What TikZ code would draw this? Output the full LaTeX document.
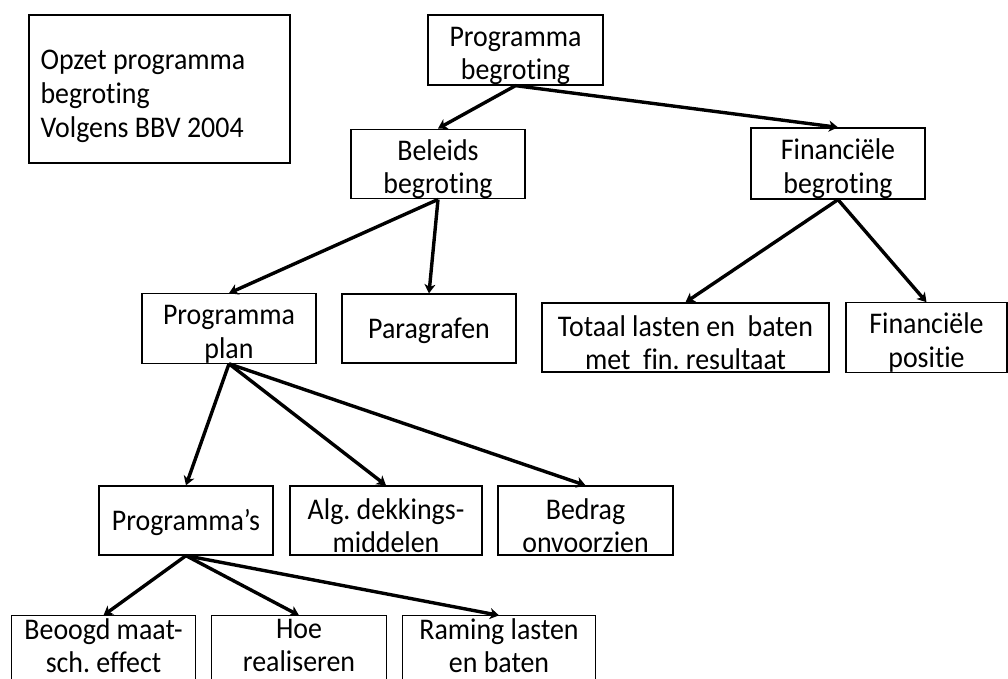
\documentclass[tikz,border=0pt]{standalone}
\usepackage{fontspec}
\setmainfont{Carlito}[Ligatures=NoCommon, FakeStretch=0.93]
\usetikzlibrary{arrows.meta}
\frenchspacing
% invisible strut that makes the first line taller, lowering the text a little
\newcommand\lift[1][31pt]{\rule{0pt}{#1}}
\tikzset{
  box/.style={draw, line width=1.3pt, inner sep=0pt, align=center,
    font=\fontsize{30}{33.5}\selectfont},
  openbox/.style={box, draw=none},
  link/.style={line width=3.4pt, -{Stealth[length=9pt,width=11pt,inset=2.5pt]}}
}
\begin{document}
\begin{tikzpicture}[x=1pt,y=-1pt]
\useasboundingbox (0,0) rectangle (1008,679);
\clip (0,0) rectangle (1008,679);

% legend
\node[box, minimum width=261, minimum height=148] (title) at (159.5,89) {};
\node[font=\fontsize{30}{34}\selectfont, align=left, inner sep=0pt, anchor=west]
  (titletext) at ([xshift=12pt,yshift=-7pt]title.west) {Opzet programma\\begroting\\Volgens BBV 2004};

% level 0
\node[box, minimum width=175, minimum height=70] (pb) at (515.5,50) {\lift Programma\\begroting};

% level 1
\node[box, minimum width=174, minimum height=68] (bel) at (438,164) {\lift Beleids\\begroting};
\node[box, minimum width=174, minimum height=71] (fin) at (838,163.5) {\lift Financiële\\begroting};

% level 2
\node[box, minimum width=174, minimum height=69] (pp) at (229,328.5) {\lift Programma\\plan};
\node[box, minimum width=174, minimum height=69] (par) at (429,328.5) {\lift[26pt]Paragrafen};
\node[box, minimum width=287, minimum height=69] (tot) at (685.5,337.5) {\lift Totaal lasten en\ \ baten\\met\ \ fin. resultaat};
\node[box, minimum width=161, minimum height=69] (fpos) at (926.5,337.5) {\lift Financiële\\positie};

% level 3
\node[box, minimum width=174, minimum height=69] (progs) at (186,520.5) {\lift[26pt]Programma’s};
\node[box, minimum width=192, minimum height=69] (alg) at (386,520.5) {\lift Alg. dekkings-\\middelen};
\node[box, minimum width=175, minimum height=69] (bed) at (585.5,520.5) {\lift Bedrag\\onvoorzien};

% level 4: boxes run off the lower edge, so only their sides and tops show
\node[openbox, minimum width=183, minimum height=59] (beo) at (103.5,645.5) {Beoogd maat-\\sch. effect};
\node[openbox, minimum width=174, minimum height=59] (hoe) at (299,645.5) {Hoe\\realiseren};
\node[openbox, minimum width=192, minimum height=59] (ram) at (499,645.5) {Raming lasten\\en baten};
\foreach \n in {beo,hoe,ram}
  \draw[line width=1.3pt] ([yshift=-10pt]\n.south west) -- (\n.north west)
    -- (\n.north east) -- ([yshift=-10pt]\n.south east);

% connectors
\draw[link] (pb.south) -- (bel.north);
\draw[link] (pb.south) -- (fin.north);
\draw[link] (bel.south) -- (pp.north);
\draw[link] (bel.south) -- (par.north);
\draw[link] (fin.south) -- (tot.north);
\draw[link] (fin.south) -- (fpos.north);
\draw[link] (pp.south) -- (progs.north);
\draw[link] (pp.south) -- (alg.north);
\draw[link] (pp.south) -- (bed.north);
\draw[link] (progs.south) -- (beo.north);
\draw[link] (progs.south) -- (hoe.north);
\draw[link] (progs.south) -- (ram.north);
\end{tikzpicture}
\end{document}
